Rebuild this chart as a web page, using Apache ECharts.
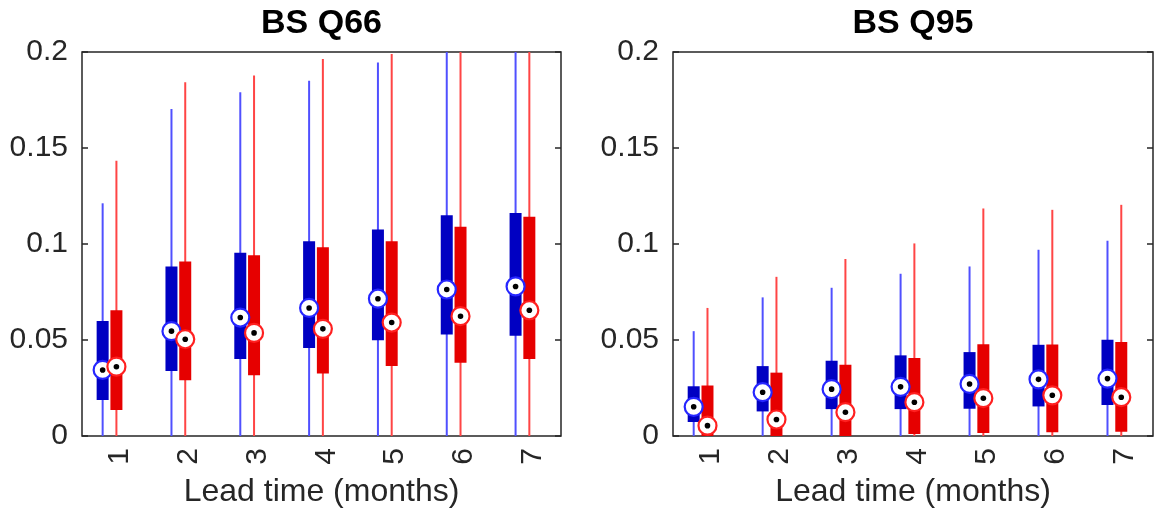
<!DOCTYPE html>
<html>
<head>
<meta charset="utf-8">
<script src="https://cdn.jsdelivr.net/npm/echarts@6/dist/echarts.min.js"></script>
<style>
  html, body { margin: 0; padding: 0; background: #fff; }
  #chart { width: 1157px; height: 513px; }
</style>
</head>
<body>
<div id="chart"></div>
<script>
// lead times (x categories)
const leadTimes = [1, 2, 3, 4, 5, 6, 7];
const panelTitles = ['BS Q66', 'BS Q95'];

// BS Q66 - blue
const q66BlueLo = [0, 0, 0, 0, 0, 0, 0];
const q66BlueQ1 = [0.0188, 0.0339, 0.0401, 0.0458, 0.0499, 0.0528, 0.0522];
const q66BlueMed = [0.0344, 0.0546, 0.0617, 0.0667, 0.0715, 0.0763, 0.0779];
const q66BlueQ3 = [0.0599, 0.0883, 0.0955, 0.1014, 0.1076, 0.1150, 0.1162];
const q66BlueHi = [0.1212, 0.1703, 0.1791, 0.1850, 0.1945, 0.2300, 0.2300];
// BS Q66 - red
const q66RedLo = [0, 0, 0, 0, 0, 0, 0];
const q66RedQ1 = [0.0135, 0.0290, 0.0316, 0.0326, 0.0364, 0.0382, 0.0401];
const q66RedMed = [0.0361, 0.0504, 0.0537, 0.0558, 0.0591, 0.0624, 0.0655];
const q66RedQ3 = [0.0655, 0.0909, 0.0942, 0.0983, 0.1014, 0.1090, 0.1142];
const q66RedHi = [0.1434, 0.1843, 0.1877, 0.1964, 0.1990, 0.2300, 0.2300];

// BS Q95 - blue
const q95BlueLo = [0, 0, 0, 0, 0, 0, 0];
const q95BlueQ1 = [0.0073, 0.0128, 0.0140, 0.0140, 0.0142, 0.0154, 0.0161];
const q95BlueMed = [0.0152, 0.0228, 0.0244, 0.0256, 0.0271, 0.0295, 0.0299];
const q95BlueQ3 = [0.0259, 0.0364, 0.0392, 0.0420, 0.0437, 0.0475, 0.0501];
const q95BlueHi = [0.0546, 0.0722, 0.0772, 0.0845, 0.0883, 0.0970, 0.1017];
// BS Q95 - red
const q95RedLo = [0, 0, 0, 0, 0, 0, 0];
const q95RedQ1 = [0, 0, 0, 0.0010, 0.0016, 0.0019, 0.0022];
const q95RedMed = [0.0054, 0.0086, 0.0124, 0.0176, 0.0197, 0.0212, 0.0202];
const q95RedQ3 = [0.0263, 0.0330, 0.0371, 0.0406, 0.0478, 0.0477, 0.0490];
const q95RedHi = [0.0667, 0.0829, 0.0922, 0.1003, 0.1185, 0.1178, 0.1204];

const textColor = '#262626';
const fontFamily = 'Liberation Sans, Arial, sans-serif';
const redShift = 0.2;     // red box sits to the right of the blue one
const labelShift = 0.25;  // tick labels sit under the red box
const grids = [
  { left: 82, top: 52, width: 479, height: 386 },
  { left: 673, top: 52, width: 480, height: 386 }
];

function rows(lo, q1, med, q3, hi, shift) {
  return leadTimes.map((t, i) => [t + shift, lo[i], q1[i], med[i], q3[i], hi[i]]);
}

function boxRender(fill, whisker) {
  return function (params, api) {
    const x = api.value(0);
    const lo = api.coord([x, api.value(1)]);
    const q1 = api.coord([x, api.value(2)]);
    const q3 = api.coord([x, api.value(4)]);
    const hi = api.coord([x, api.value(5)]);
    return {
      type: 'group',
      children: [
        {
          type: 'line',
          shape: { x1: lo[0], y1: lo[1], x2: hi[0], y2: hi[1] },
          style: { stroke: whisker, lineWidth: 2 }
        },
        {
          type: 'rect',
          shape: { x: q1[0] - 6, y: q3[1], width: 12, height: q1[1] - q3[1] },
          style: { fill: fill }
        }
      ]
    };
  };
}

function medianRender(ring) {
  return function (params, api) {
    const p = api.coord([api.value(0), api.value(3)]);
    return {
      type: 'group',
      children: [
        { type: 'circle', shape: { cx: p[0], cy: p[1], r: 9 }, style: { fill: '#fff', stroke: ring, lineWidth: 2.2 } },
        { type: 'circle', shape: { cx: p[0], cy: p[1], r: 2.8 }, style: { fill: '#000' } }
      ]
    };
  };
}

const panels = [
  {
    blue: rows(q66BlueLo, q66BlueQ1, q66BlueMed, q66BlueQ3, q66BlueHi, 0),
    red: rows(q66RedLo, q66RedQ1, q66RedMed, q66RedQ3, q66RedHi, redShift)
  },
  {
    blue: rows(q95BlueLo, q95BlueQ1, q95BlueMed, q95BlueQ3, q95BlueHi, 0),
    red: rows(q95RedLo, q95RedQ1, q95RedMed, q95RedQ3, q95RedHi, redShift)
  }
];

const xAxes = [];
const yAxes = [];
const series = [];
const graphics = [];

grids.forEach((g, k) => {
  xAxes.push({
    type: 'value',
    gridIndex: k,
    min: 0.7,
    max: 7.66,
    axisLine: { show: false },
    axisTick: { show: false },
    splitLine: { show: false },
    axisLabel: {
      customValues: leadTimes.map(t => t + labelShift),
      formatter: v => String(Math.round(v - labelShift)),
      rotate: 90,
      margin: 12,
      fontSize: 30,
      fontFamily: fontFamily,
      color: textColor
    },
    name: 'Lead time (months)',
    nameLocation: 'middle',
    nameGap: 40,
    nameTextStyle: { fontSize: 32, fontFamily: fontFamily, color: textColor }
  });
  ['left', 'right'].forEach(pos => {
    yAxes.push({
      type: 'value',
      gridIndex: k,
      position: pos,
      min: 0,
      max: 0.2,
      interval: 0.05,
      axisLine: { show: false },
      axisTick: { show: true, inside: true, length: 6, lineStyle: { color: textColor, width: 1.5 } },
      splitLine: { show: false },
      axisLabel: {
        show: pos === 'left',
        margin: 14,
        fontSize: 30,
        fontFamily: fontFamily,
        color: textColor
      }
    });
  });

  const yIdx = k * 2;
  const data = panels[k];
  series.push(
    { type: 'custom', xAxisIndex: k, yAxisIndex: yIdx, clip: true, data: data.blue, renderItem: boxRender('#0000c2', '#5050ff'), z: 2 },
    { type: 'custom', xAxisIndex: k, yAxisIndex: yIdx, clip: true, data: data.red, renderItem: boxRender('#e60000', '#ff4545'), z: 2 },
    { type: 'custom', xAxisIndex: k, yAxisIndex: yIdx, clip: false, data: data.blue, renderItem: medianRender('#2626ff'), z: 3 },
    { type: 'custom', xAxisIndex: k, yAxisIndex: yIdx, clip: false, data: data.red, renderItem: medianRender('#ff2020'), z: 3 }
  );

  graphics.push({
    type: 'text',
    x: g.left + g.width / 2,
    y: 24,
    style: {
      text: panelTitles[k],
      font: 'bold 34px ' + fontFamily,
      fill: '#000',
      textAlign: 'center',
      textVerticalAlign: 'middle'
    }
  });
});

const chart = echarts.init(document.getElementById('chart'), null, { renderer: 'canvas' });
chart.setOption({
  backgroundColor: '#fff',
  animation: false,
  grid: grids.map(g => Object.assign({ show: true, borderColor: textColor, borderWidth: 1.5, backgroundColor: '#fff' }, g)),
  xAxis: xAxes,
  yAxis: yAxes,
  series: series,
  graphic: graphics
});
</script>
</body>
</html>
